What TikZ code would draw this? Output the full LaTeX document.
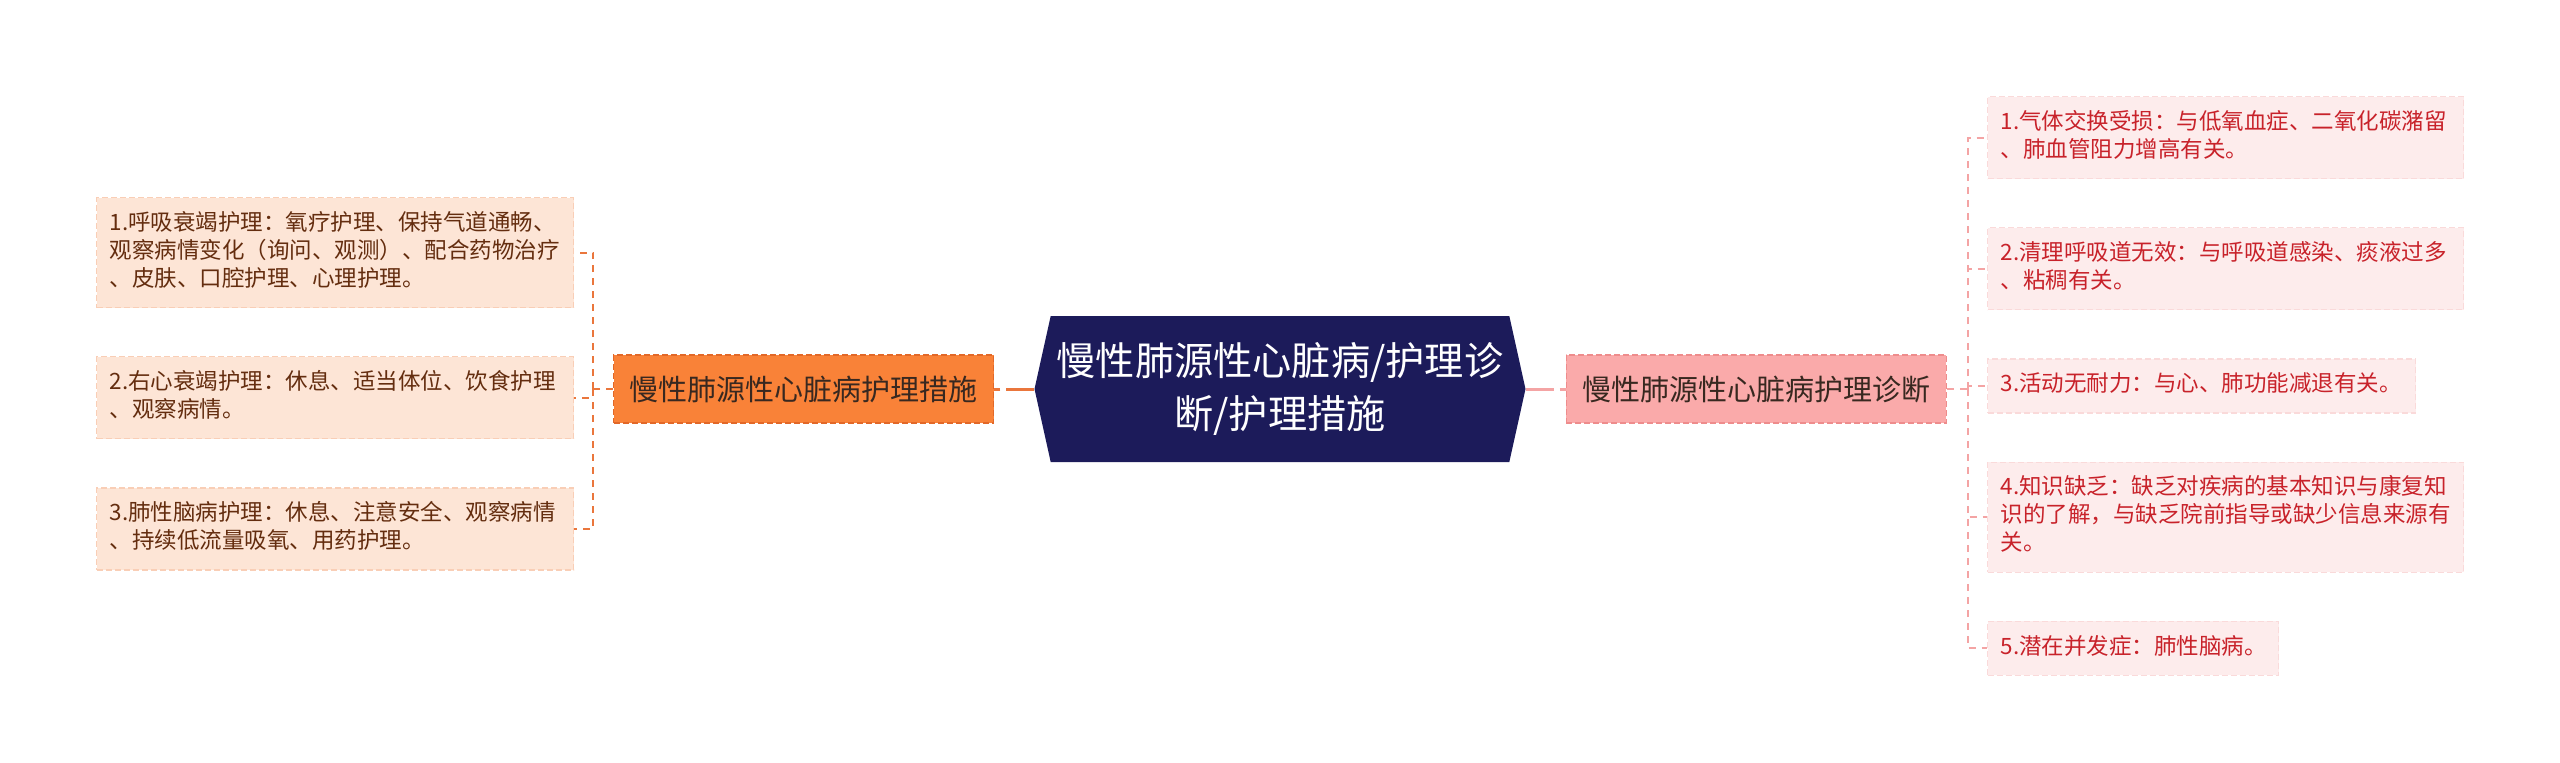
\documentclass[tikz,border=0pt]{standalone}
\usepackage{fontspec}
\setmainfont{Noto Sans CJK SC}
\usetikzlibrary{positioning,shapes.symbols}
\definecolor{rootblue}{RGB}{28,27,90}
\definecolor{measorange}{RGB}{249,130,56}
\definecolor{measedge}{RGB}{226,104,40}
\definecolor{diagpink}{RGB}{250,170,170}
\definecolor{diagedge}{RGB}{238,140,140}
\definecolor{measleaf}{RGB}{253,229,214}
\definecolor{measleafedge}{RGB}{249,206,182}
\definecolor{diagleaf}{RGB}{253,236,236}
\definecolor{diagleafedge}{RGB}{250,218,218}
\definecolor{measline}{RGB}{234,118,60}
\definecolor{diagline}{RGB}{244,164,164}
\definecolor{leaftext}{RGB}{100,45,15}
\definecolor{diagtext}{RGB}{200,34,42}
\definecolor{midtext}{RGB}{56,40,32}
\tikzset{
  rootbox/.style={signal, signal to=west and east, signal pointer angle=155,
    fill=rootblue, text=white, minimum width=491pt, minimum height=146pt,
    inner sep=0pt, align=center, font=\fontsize{39.2}{53}\selectfont},
  midbox/.style={draw, dash pattern=on 6pt off 3pt, line width=1.2pt,
    minimum width=380pt, minimum height=68pt, inner sep=0pt, text=midtext,
    font=\fontsize{29}{34}\selectfont},
  leafbox/.style={draw, dash pattern=on 6pt off 3pt, line width=1.2pt,
    align=left, inner xsep=13pt, inner ysep=13pt, anchor=north west,
    font=\fontsize{22.5}{28}\selectfont,
    execute at begin node=\strut, execute at end node=\strut},
  careleaf/.style={leafbox, fill=measleaf, draw=measleafedge, text=leaftext,
    text width=451pt},
  diagleaf/.style={leafbox, fill=diagleaf, draw=diagleafedge, text=diagtext,
    text width=450pt},
  trunk/.style={line width=3pt, dash pattern=on 28pt off 6pt},
  carelink/.style={draw=measline, line width=2pt, dash pattern=on 7pt off 6pt},
  diaglink/.style={draw=diagline, line width=2pt, dash pattern=on 7pt off 6pt},
}
\begin{document}
\begin{tikzpicture}[x=1pt,y=-1pt]
\useasboundingbox (0,0) rectangle (2560,763);
% centre and the two branches
\node(Disease) [rootbox] at (1280,389) {慢性肺源性心脏病/护理诊\\断/护理措施};
\node(Measures) [midbox, fill=measorange, draw=measedge, left=40pt of Disease] {慢性肺源性心脏病护理措施};
\node(Diagnosis) [midbox, fill=diagpink, draw=diagedge, right=40pt of Disease] {慢性肺源性心脏病护理诊断};
% nursing measures
\node(Care1) [careleaf] at (96,197) {1.呼吸衰竭护理：氧疗护理、保持气道通畅、\\观察病情变化（询问、观测）、配合药物治疗\\、皮肤、口腔护理、心理护理。};
\node(Care2) [careleaf, below=48pt of Care1.south west, anchor=north west] {2.右心衰竭护理：休息、适当体位、饮食护理\\、观察病情。};
\node(Care3) [careleaf, below=48pt of Care2.south west, anchor=north west] {3.肺性脑病护理：休息、注意安全、观察病情\\、持续低流量吸氧、用药护理。};
% nursing diagnoses
\node(Diag1) [diagleaf] at (1987,96) {1.气体交换受损：与低氧血症、二氧化碳潴留\\、肺血管阻力增高有关。};
\node(Diag2) [diagleaf, below=48pt of Diag1.south west, anchor=north west] {2.清理呼吸道无效：与呼吸道感染、痰液过多\\、粘稠有关。};
\node(Diag3) [diagleaf, text width=402pt, below=48pt of Diag2.south west, anchor=north west] {3.活动无耐力：与心、肺功能减退有关。};
\node(Diag4) [diagleaf, below=48pt of Diag3.south west, anchor=north west] {4.知识缺乏：缺乏对疾病的基本知识与康复知\\识的了解，与缺乏院前指导或缺少信息来源有\\关。};
\node(Diag5) [diagleaf, text width=265pt, below=48pt of Diag4.south west, anchor=north west] {5.潜在并发症：肺性脑病。};
\coordinate[left=20pt of Measures.west] (ForkL);
\coordinate[right=21pt of Diagnosis.east] (ForkR);
\draw[trunk, measline] (Disease.west) -- (Measures.east);
\draw[trunk, diagline] (Disease.east) -- (Diagnosis.west);
\draw[carelink] (Measures.west) -- (ForkL);
\draw[carelink] (ForkL) |- (Care1.east);
\draw[carelink] (ForkL) |- (Care2.east);
\draw[carelink] (ForkL) |- (Care3.east);
\draw[diaglink] (Diagnosis.east) -- (ForkR);
\draw[diaglink] (ForkR) |- (Diag1.west);
\draw[diaglink] (ForkR) |- (Diag2.west);
\draw[diaglink] (ForkR) |- (Diag3.west);
\draw[diaglink] (ForkR) |- (Diag4.west);
\draw[diaglink] (ForkR) |- (Diag5.west);
\end{tikzpicture}
\end{document}
